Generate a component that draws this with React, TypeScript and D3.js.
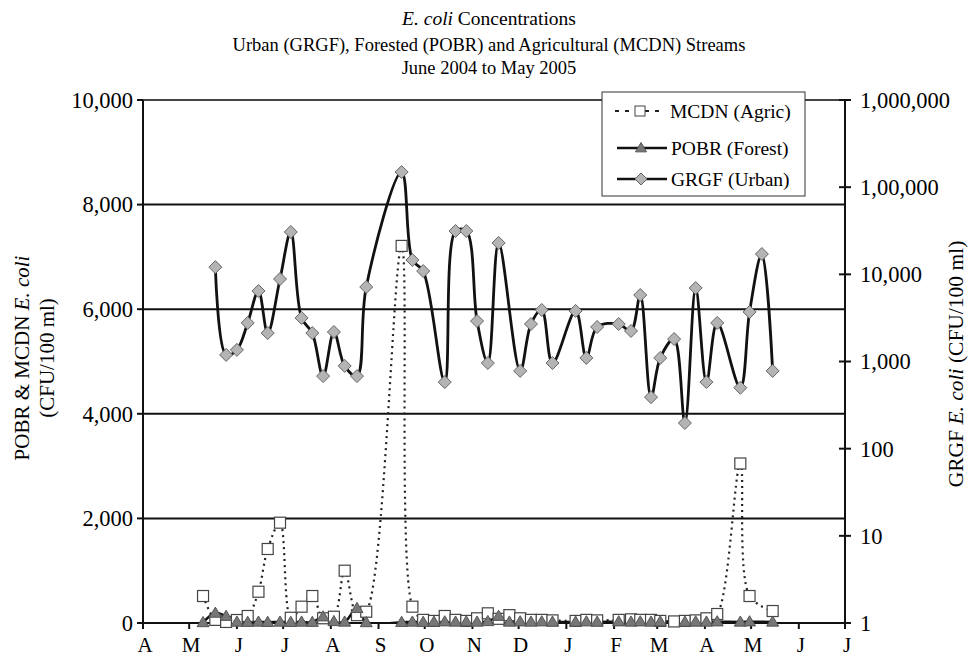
import * as d3 from "d3";

// sampling dates shared by the three streams (null = not sampled / not plotted)
const sampleDates = [
  "2004-05-10", "2004-05-18", "2004-05-25", "2004-06-01", "2004-06-08", "2004-06-15",
  "2004-06-21", "2004-06-29", "2004-07-06", "2004-07-13", "2004-07-20", "2004-07-27",
  "2004-08-03", "2004-08-10", "2004-08-18", "2004-08-24", "2004-09-16", "2004-09-23",
  "2004-09-30", "2004-10-07", "2004-10-14", "2004-10-21", "2004-10-28", "2004-11-04",
  "2004-11-11", "2004-11-18", "2004-11-25", "2004-12-02", "2004-12-09", "2004-12-16",
  "2004-12-23", "2005-01-07", "2005-01-14", "2005-01-21", "2005-02-04", "2005-02-12",
  "2005-02-18", "2005-02-25", "2005-03-03", "2005-03-12", "2005-03-19", "2005-03-26",
  "2005-04-02", "2005-04-09", "2005-04-24", "2005-04-30", "2005-05-08", "2005-05-15",
];

// GRGF (Urban) - right log axis
const grgfUrban: (number | null)[] = [
  null, 12100, 1190, 1360, 2770, 6440,
  2120, 8840, 30600, 3160, 2120, 680,
  2180, 890, 680, 7160, 149000, 14600,
  10900, null, 580, 31400, 31400, 2910,
  960, 22900, null, 780, 2690, 3900,
  960, 3800, 1100, 2490, 2690, 2240,
  5790, 390, 1100, 1810, 197, 6970,
  580, 2770, 500, 3700, 17100, 780,
];

// POBR (Forest) - left axis
const pobrForest: (number | null)[] = [
  10, 190, 130, 20, 15, 20,
  15, 20, 15, 20, 15, 120,
  30, 20, 280, 10, 15, 20,
  15, 20, 25, 20, 25, 20,
  30, 130, 20, 25, 20, 25,
  20, 20, 25, 20, 25, 20,
  25, 20, 25, null, 20, 25,
  20, 25, 20, 25, null, 20,
];

// MCDN (Agric) - left axis
const mcdnAgric: (number | null)[] = [
  516, 60, 20, 57, 134, 598,
  1415, 1918, 100, 312, 516, 90,
  120, 1000, 150, 216, 7210, 312,
  60, 40, 134, 60, 40, 90,
  185, 80, 150, 90, 60, 60,
  50, 40, 60, 50, 60, 70,
  60, 60, 40, 30, 40, 50,
  90, 172, 3050, 516, null, 229,
];

const leftTicks = [0, 2000, 4000, 6000, 8000, 10000];
const rightTicks = [1, 10, 100, 1000, 10000, 100000, 1000000];
const rightTickLabels = ["1", "10", "100", "1,000", "10,000", "1,00,000", "1,000,000"];
const monthLabels = ["A", "M", "J", "J", "A", "S", "O", "N", "D", "J", "F", "M", "A", "M", "J", "J"];

const WIDTH = 969;
const HEIGHT = 658;
const X0 = 143;
const X1 = 845;
const Y_TOP = 100;
const Y_BOT = 623;
const FONT = "'Liberation Serif', 'Times New Roman', serif";
const TICK_FONT = 22.5;

export default function App() {
  const parse = d3.timeParse("%Y-%m-%d");
  const dates = sampleDates.map((s) => parse(s)!);

  const x = d3.scaleTime()
    .domain([new Date(2004, 3, 1), new Date(2005, 6, 1)])
    .range([X0, X1]);
  const yLeft = d3.scaleLinear().domain([0, 10000]).range([Y_BOT, Y_TOP]);
  const yRight = d3.scaleLog().domain([1, 1e6]).range([Y_BOT, Y_TOP]);

  const months = d3.timeMonth.range(new Date(2004, 3, 1), new Date(2005, 6, 2));

  const toPts = (vals: (number | null)[], y: (v: number) => number) =>
    dates
      .map((d, i) => ({ d, v: vals[i] }))
      .filter((p) => p.v != null)
      .map((p) => [x(p.d), y(p.v as number)] as [number, number]);

  const grgfPts = toPts(grgfUrban, yRight);
  const pobrPts = toPts(pobrForest, yLeft);
  const mcdnPts = toPts(mcdnAgric, yLeft);

  const smooth = d3.line().curve(d3.curveCatmullRom.alpha(0.5));
  const fmt = d3.format(",");

  const diamond = (cx: number, cy: number, r = 6.5) =>
    `M${cx},${cy - r}L${cx + r},${cy}L${cx},${cy + r}L${cx - r},${cy}Z`;
  const triangle = (cx: number, cy: number, r = 6) =>
    `M${cx},${cy - r}L${cx + r},${cy + r * 0.7}L${cx - r},${cy + r * 0.7}Z`;

  return (
    <svg
      width={WIDTH}
      height={HEIGHT}
      style={{ position: "absolute", left: 0, top: 0, background: "#fff" }}
      fontFamily={FONT}
    >
      <defs>
        <clipPath id="plot">
          <rect x={X0} y={Y_TOP - 20} width={X1 - X0} height={Y_BOT - Y_TOP + 20} />
        </clipPath>
      </defs>

      {/* titles */}
      <text x={489} y={25} textAnchor="middle" fontSize={19.5}>
        <tspan fontStyle="italic">E.  coli</tspan> Concentrations
      </text>
      <text x={489} y={51} textAnchor="middle" fontSize={18.5}>
        Urban (GRGF), Forested (POBR) and Agricultural (MCDN) Streams
      </text>
      <text x={489} y={74} textAnchor="middle" fontSize={18.5}>
        June 2004 to May 2005
      </text>

      {/* gridlines */}
      {leftTicks.slice(1).map((t) => (
        <line key={t} x1={X0} x2={X1} y1={yLeft(t)} y2={yLeft(t)}
          stroke={t === 10000 ? "#444" : "#111"} strokeWidth={2} />
      ))}

      {/* axes */}
      <line x1={X0} x2={X0} y1={Y_TOP} y2={Y_BOT} stroke="#111" strokeWidth={2} />
      <line x1={X1} x2={X1} y1={Y_TOP} y2={Y_BOT} stroke="#111" strokeWidth={2} />
      <line x1={X0} x2={X1} y1={Y_BOT} y2={Y_BOT} stroke="#111" strokeWidth={2} />

      {leftTicks.map((t) => (
        <g key={t}>
          <line x1={X0 - 6} x2={X0} y1={yLeft(t)} y2={yLeft(t)} stroke="#111" strokeWidth={2} />
          <text x={X0 - 10} y={yLeft(t)} dy="0.35em" textAnchor="end" fontSize={TICK_FONT}>{fmt(t)}</text>
        </g>
      ))}
      {rightTicks.map((t, i) => (
        <g key={t}>
          <line x1={X1 - 6} x2={X1 + 6} y1={yRight(t)} y2={yRight(t)} stroke="#111" strokeWidth={2} />
          <text x={X1 + 15} y={yRight(t)} dy="0.35em" fontSize={TICK_FONT}>{rightTickLabels[i]}</text>
        </g>
      ))}
      {months.map((m, i) => (
        <g key={i}>
          <line x1={x(m)} x2={x(m)} y1={Y_BOT} y2={Y_BOT + 6} stroke="#111" strokeWidth={2} />
          <text x={x(m) + 2} y={Y_BOT + 29} textAnchor="middle" fontSize={21}>{monthLabels[i]}</text>
        </g>
      ))}

      {/* axis titles */}
      <g transform={`translate(29, 358) rotate(-90)`}>
        <text textAnchor="middle" fontSize={21}>
          POBR &amp; MCDN <tspan fontStyle="italic">E. coli</tspan>
        </text>
      </g>
      <g transform={`translate(54, 358) rotate(-90)`}>
        <text textAnchor="middle" fontSize={21}>(CFU/100 ml)</text>
      </g>
      <g transform={`translate(963, 364) rotate(-90)`}>
        <text textAnchor="middle" fontSize={21.5}>
          GRGF <tspan fontStyle="italic">E. coli</tspan> (CFU/100 ml)
        </text>
      </g>

      {/* series */}
      <g clipPath="url(#plot)">
        <path d={smooth(mcdnPts)!} fill="none" stroke="#222" strokeWidth={2.2} strokeDasharray="2,4" />
        <path d={smooth(pobrPts)!} fill="none" stroke="#111" strokeWidth={2.5} />
        <path d={smooth(grgfPts)!} fill="none" stroke="#111" strokeWidth={2.8} />
      </g>
      {mcdnPts.map(([cx, cy], i) => (
        <rect key={i} x={cx - 5.5} y={cy - 5.5} width={11} height={11} fill="#fff" stroke="#444" strokeWidth={1.2} />
      ))}
      {pobrPts.map(([cx, cy], i) => (
        <path key={i} d={triangle(cx, cy)} fill="#777" stroke="#555" strokeWidth={1} />
      ))}
      {grgfPts.map(([cx, cy], i) => (
        <path key={i} d={diamond(cx, cy)} fill="#b4b4b4" stroke="#666" strokeWidth={1} />
      ))}

      {/* legend */}
      <g>
        <rect x={602} y={92} width={203} height={104} fill="#fff" stroke="#333" strokeWidth={1} />
        <line x1={615} x2={665} y1={111} y2={111} stroke="#222" strokeWidth={2} strokeDasharray="4,6" />
        <rect x={635} y={106} width={10} height={10} fill="#fff" stroke="#444" />
        <text x={670} y={111} dy="0.35em" fontSize={19.5}>MCDN (Agric)</text>

        <line x1={617} x2={667} y1={148} y2={148} stroke="#111" strokeWidth={2.5} />
        <path d={triangle(641, 148, 5.5)} fill="#777" stroke="#555" />
        <text x={671} y={148} dy="0.35em" fontSize={19.5}>POBR (Forest)</text>

        <line x1={617} x2={667} y1={179} y2={179} stroke="#111" strokeWidth={2.5} />
        <path d={diamond(641, 179, 6)} fill="#b4b4b4" stroke="#666" />
        <text x={671} y={179} dy="0.35em" fontSize={19.5}>GRGF (Urban)</text>
      </g>
    </svg>
  );
}
